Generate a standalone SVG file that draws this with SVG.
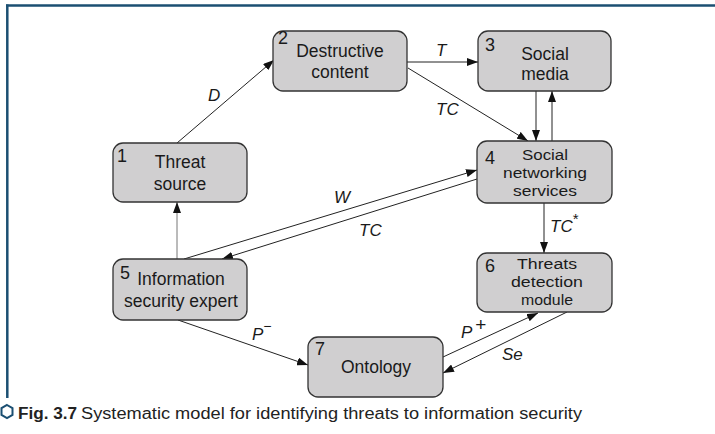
<svg xmlns="http://www.w3.org/2000/svg" width="715" height="434" viewBox="0 0 715 434">
<style>
.node rect{fill:#d0cfd0;stroke:#333;stroke-width:1.3}
.t{font-family:"Liberation Sans",Arial,sans-serif;font-size:17.5px;fill:#1a1a1a;text-anchor:middle}
.t3{font-family:"Liberation Sans",Arial,sans-serif;font-size:15.5px;fill:#1a1a1a;text-anchor:middle}
.n{font-family:"Liberation Sans",Arial,sans-serif;font-size:18px;fill:#1a1a1a}
.e{font-family:"Liberation Sans",Arial,sans-serif;font-size:17px;font-style:italic;fill:#1a1a1a}
.c line{stroke:#222;stroke-width:1;marker-end:url(#ah)}
.cap{font-family:"Liberation Sans Narrow","Liberation Sans",Arial,sans-serif;font-size:16px;fill:#222}
</style>
<defs>
<marker id="ah" markerUnits="userSpaceOnUse" markerWidth="11" markerHeight="8" refX="11" refY="4" orient="auto">
<path d="M0,0 L11,4 L0,8 z" fill="#111"/>
</marker>
</defs>
<rect width="715" height="434" fill="#fff"/>
<g id="frame" stroke="#1b4f72" stroke-width="2.5" fill="none">
<line x1="6" y1="5.5" x2="715" y2="5.5"/>
<line x1="7.3" y1="4.5" x2="7.3" y2="398"/>
</g>
<g id="connectors" class="c">
<line x1="177" y1="143" x2="274" y2="60"/>
<line x1="407" y1="62" x2="478" y2="62"/>
<line x1="408" y1="68" x2="528" y2="141"/>
<line x1="536" y1="91" x2="536" y2="141"/>
<line x1="552" y1="141" x2="552" y2="91"/>
<line x1="184" y1="259" x2="477" y2="170"/>
<line x1="477" y1="179" x2="222" y2="259"/>
<line x1="177" y1="259" x2="177" y2="202" style="stroke:#777"/>
<line x1="544" y1="203" x2="544" y2="253"/>
<line x1="178" y1="320" x2="308" y2="365"/>
<line x1="443" y1="357" x2="538" y2="313"/>
<line x1="567" y1="312" x2="443" y2="373"/>
</g>
<g id="edge-labels" class="e">
<text x="208" y="101">D</text>
<text x="436" y="56">T</text>
<text x="436" y="115">TC</text>
<text x="334" y="203">W</text>
<text x="359" y="236">TC</text>
<text x="550" y="232">TC<tspan dy="-8" font-size="15" font-style="normal">*</tspan></text>
<text x="252" y="340">P<tspan dy="-9" font-size="14" font-style="normal">−</tspan></text>
<text x="461" y="338">P<tspan dx="3" dy="-7" font-size="19" font-style="normal">+</tspan></text>
<text x="502" y="360">Se</text>
</g>
<g id="node1" class="node">
<rect x="113" y="143" width="134" height="59" rx="10"/>
<text class="n" x="117" y="162">1</text>
<text class="t" x="180" y="168">Threat</text>
<text class="t" x="180" y="190">source</text>
</g>
<g id="node2" class="node">
<rect x="273" y="31" width="134" height="60" rx="10"/>
<text class="n" x="278" y="44" font-size="15">2</text>
<text class="t" x="340" y="57">Destructive</text>
<text class="t" x="340" y="78">content</text>
</g>
<g id="node3" class="node">
<rect x="478" y="31" width="133" height="60" rx="10"/>
<text class="n" x="485" y="51">3</text>
<text class="t" x="545" y="60">Social</text>
<text class="t" x="545" y="80">media</text>
</g>
<g id="node4" class="node">
<rect x="477" y="141" width="135" height="62" rx="10"/>
<text class="n" x="485" y="164">4</text>
<text class="t3" x="545" y="160" textLength="46" lengthAdjust="spacingAndGlyphs">Social</text>
<text class="t3" x="545" y="178" textLength="84" lengthAdjust="spacingAndGlyphs">networking</text>
<text class="t3" x="545" y="196" textLength="64" lengthAdjust="spacingAndGlyphs">services</text>
</g>
<g id="node5" class="node">
<rect x="113" y="259" width="134" height="61" rx="10"/>
<text class="n" x="120" y="279">5</text>
<text class="t" x="181" y="285">Information</text>
<text class="t" x="181" y="307">security expert</text>
</g>
<g id="node6" class="node">
<rect x="477" y="253" width="135" height="59" rx="10"/>
<text class="n" x="485" y="272">6</text>
<text class="t3" x="547" y="269" textLength="60" lengthAdjust="spacingAndGlyphs">Threats</text>
<text class="t3" x="547" y="287" textLength="72" lengthAdjust="spacingAndGlyphs">detection</text>
<text class="t3" x="547" y="305" textLength="52" lengthAdjust="spacingAndGlyphs">module</text>
</g>
<g id="node7" class="node">
<rect x="308" y="337" width="135" height="60" rx="10"/>
<text class="n" x="315" y="355">7</text>
<text class="t" x="376" y="373">Ontology</text>
</g>
<g id="caption">
<path d="M7,405 L12.5,408.2 L12.5,414.8 L7,418 L1.5,414.8 L1.5,408.2 Z" fill="none" stroke="#1b4f72" stroke-width="2"/>
<text class="cap" x="18" y="419" font-weight="bold" textLength="59" lengthAdjust="spacingAndGlyphs">Fig. 3.7</text>
<text class="cap" x="81" y="419" textLength="501" lengthAdjust="spacingAndGlyphs">Systematic model for identifying threats to information security</text>
</g>
</svg>
